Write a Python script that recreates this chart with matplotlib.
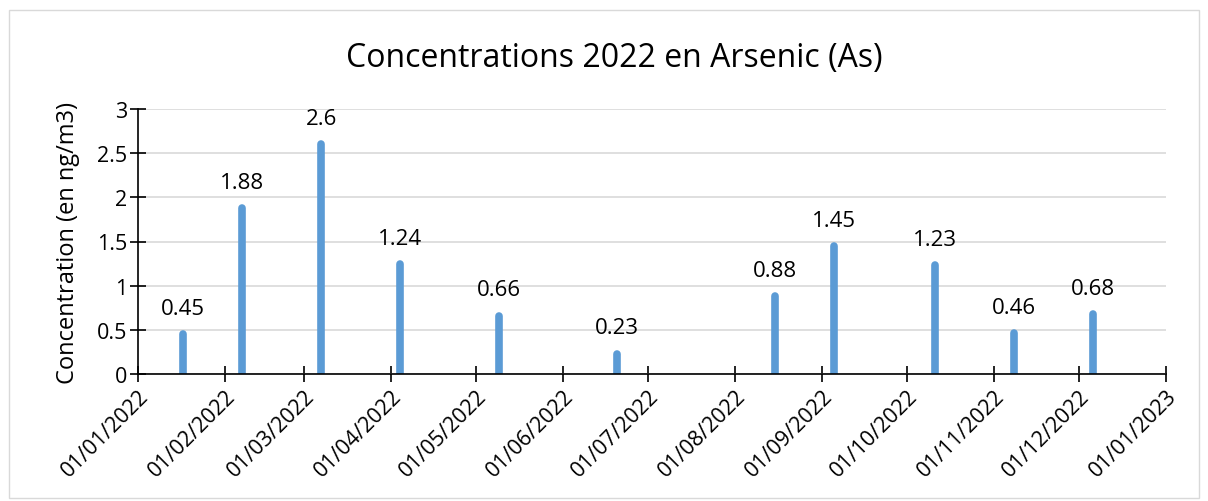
import matplotlib
matplotlib.use('Agg')
import matplotlib.pyplot as plt
import matplotlib.dates as mdates
from matplotlib.patches import Rectangle
import datetime as dt

# sampling dates and measured concentrations (ng/m3)
dates = ['2022-01-17', '2022-02-07', '2022-03-07', '2022-04-04', '2022-05-09',
         '2022-06-20', '2022-08-15', '2022-09-05', '2022-10-11', '2022-11-08',
         '2022-12-06']
values = [0.45, 1.88, 2.6, 1.24, 0.66, 0.23, 0.88, 1.45, 1.23, 0.46, 0.68]
month_ticks = [dt.date(2022, m, 1) for m in range(1, 13)] + [dt.date(2023, 1, 1)]
y_ticks = [0, 0.5, 1, 1.5, 2, 2.5, 3]
y_labels = ['0', '0.5', '1', '1.5', '2', '2.5', '3']

x = [dt.datetime.strptime(d, '%Y-%m-%d').date() for d in dates]

plt.rcParams['font.family'] = ['Open Sans', 'DejaVu Sans']
fig = plt.figure(figsize=(12.08, 5.02), dpi=100)
ax = fig.add_axes([138 / 1208, 1 - 375 / 502, (1166 - 138) / 1208, (375 - 110) / 502])

# light frame round the whole chart
fig.patches.append(Rectangle((9 / 1208, 3 / 502), 1190 / 1208, 488 / 502,
                             transform=fig.transFigure, fill=False,
                             edgecolor='#d9d9d9', linewidth=1))

ax.vlines(x, 0, values, colors='#5b9bd5', linewidth=5.5, capstyle='round', zorder=3)
for xi, v in zip(x, values):
    ax.annotate(f'{v:g}', (mdates.date2num(xi), v), xytext=(0, 11),
                textcoords='offset points', ha='center', va='bottom', fontsize=16)

ax.set_xlim(month_ticks[0], month_ticks[-1])
ax.set_ylim(0, 3)
ax.set_xticks(month_ticks)
ax.xaxis.set_major_formatter(mdates.DateFormatter('%d/%m/%Y'))
ax.set_yticks(y_ticks)
ax.set_yticklabels(y_labels)
ax.tick_params(axis='both', direction='inout', length=12, width=1.2, labelsize=15.5, pad=2)
plt.setp(ax.get_xticklabels(), rotation=45, ha='right', rotation_mode='anchor')
ax.grid(axis='y', color='#d9d9d9', linewidth=1.2, zorder=0)
ax.set_axisbelow(True)
for s in ['top', 'right']:
    ax.spines[s].set_visible(False)
for s in ['left', 'bottom']:
    ax.spines[s].set_linewidth(1.2)
ax.spines['bottom'].set_zorder(4)

ax.set_ylabel('Concentration (en ng/m3)', fontsize=17, labelpad=12)
fig.text(614 / 1208, 1 - 58 / 502, 'Concentrations 2022 en Arsenic (As)',
         ha='center', va='center', fontsize=23)

fig.savefig('out.png', dpi=100)
plt.close(fig)
